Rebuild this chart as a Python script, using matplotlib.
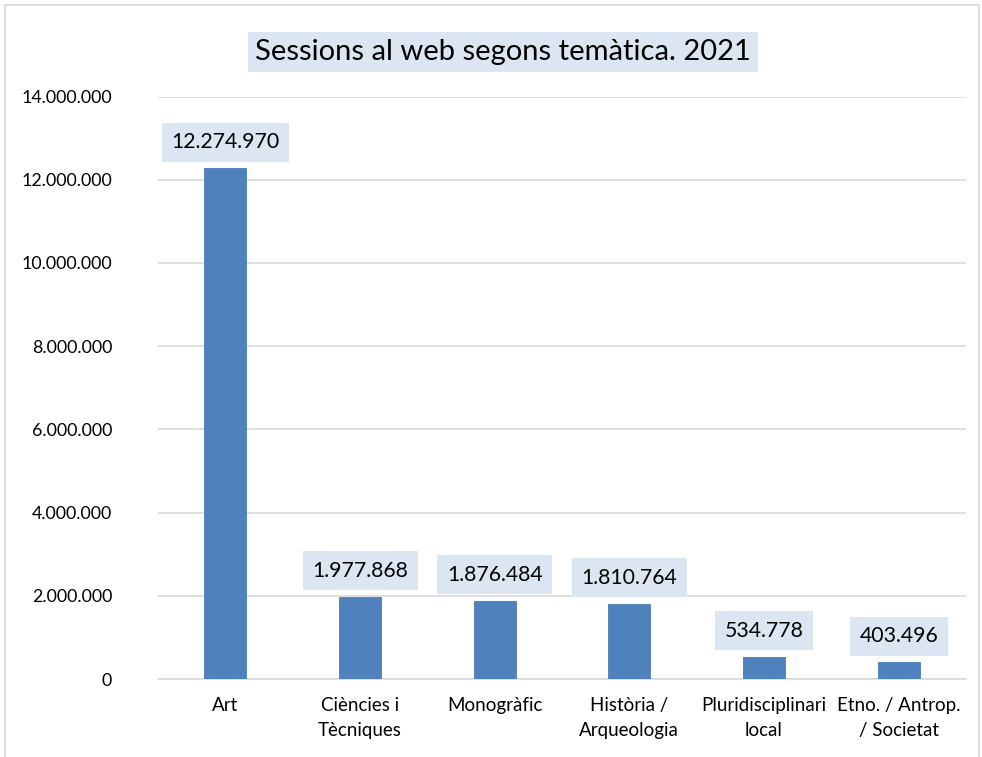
import matplotlib.pyplot as plt
from matplotlib.patches import Rectangle
from matplotlib.ticker import FuncFormatter

# Dades del gràfic
categories = ['Art', 'Ciències i\nTècniques', 'Monogràfic', 'Història /\nArqueologia',
              'Pluridisciplinari\nlocal', 'Etno. / Antrop.\n/ Societat']
sessions = [12274970, 1977868, 1876484, 1810764, 534778, 403496]
y_ticks = [0, 2000000, 4000000, 6000000, 8000000, 10000000, 12000000, 14000000]

font = ['Lato', 'DejaVu Sans']


def punts(v, pos=None):
    return f"{int(v):,}".replace(',', '.')


fig = plt.figure(figsize=(9.82, 7.57), dpi=100)
ax = fig.add_axes([158 / 982, 1 - 679 / 757, 808 / 982, (679 - 96.5) / 757])

x = range(len(categories))
barres = ax.bar(x, sessions, width=0.31, color='#4F81BD', edgecolor='#4A7EBB', linewidth=0.6, zorder=3)

ax.set_xlim(-0.5, len(categories) - 0.5)
ax.set_ylim(0, 14000000)
ax.set_yticks(y_ticks)
ax.yaxis.set_major_formatter(FuncFormatter(punts))
ax.yaxis.grid(True, color='#D9D9D9', linewidth=1.2, zorder=0)
ax.set_axisbelow(True)
for s in ['top', 'right', 'left']:
    ax.spines[s].set_visible(False)
ax.spines['bottom'].set_color('#D9D9D9')
ax.spines['bottom'].set_linewidth(1.2)
ax.tick_params(axis='both', length=0)
ax.tick_params(axis='y', pad=33)
ax.tick_params(axis='x', pad=13)
ax.set_xticks(list(x))
ax.set_xticklabels(categories, fontsize=13.5, family=font, linespacing=1.6)
for t in ax.get_yticklabels():
    t.set_fontsize(12.8)
    t.set_family(font)

# Etiquetes de valor amb fons
for b, v in zip(barres, sessions):
    ax.annotate(punts(v), (b.get_x() + b.get_width() / 2, v), xytext=(0, 26),
                textcoords='offset pixels', ha='center', va='center',
                fontsize=15.3, family=font,
                bbox=dict(boxstyle='square,pad=0.45', facecolor='#DCE6F2', edgecolor='none'))

fig.text(503 / 982, 1 - 52 / 757, 'Sessions al web segons temàtica. 2021', ha='center', va='center',
         fontsize=21, family=font,
         bbox=dict(boxstyle='square,pad=0.25', facecolor='#DCE6F2', edgecolor='none'))

# Vora exterior
fig.patches.append(Rectangle((5 / 982, -0.05), 974 / 982, 1.05 - 5 / 757, transform=fig.transFigure,
                             fill=False, edgecolor='#D9D9D9', linewidth=1.2))

fig.savefig('out.png', dpi=100)
